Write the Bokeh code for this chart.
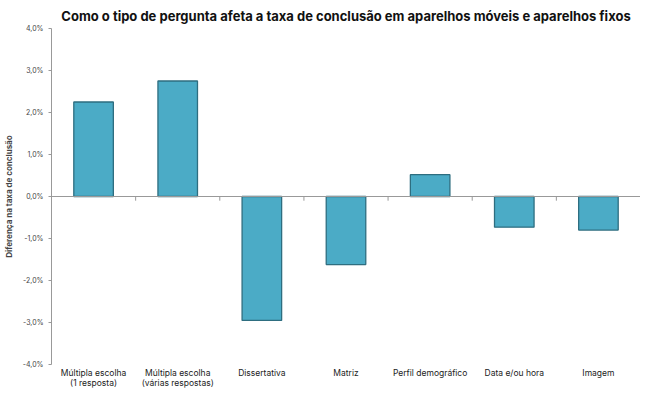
from bokeh.plotting import figure
from bokeh.models import FixedTicker, Range1d, Span
from bokeh.embed import file_html
from bokeh.resources import INLINE

categories = ["Múltipla escolha\n(1 resposta)", "Múltipla escolha\n(várias respostas)", "Dissertativa",
              "Matriz", "Perfil demográfico", "Data e/ou hora", "Imagem"]
values = [2.25, 2.75, -2.95, -1.62, 0.52, -0.73, -0.80]
yticks = [-4, -3, -2, -1, 0, 1, 2, 3, 4]
ytick_labels = {t: f"{t:.1f}%".replace(".", ",") for t in yticks}

xs = list(range(len(categories)))
p = figure(width=640, height=390, output_backend="svg", toolbar_location=None,
           x_range=Range1d(-0.5, len(categories) - 0.5), y_range=Range1d(-4, 4),
           min_border_left=8, min_border_right=0, min_border_top=6, min_border_bottom=0)
p.title.text = "Como o tipo de pergunta afeta a taxa de conclusão em aparelhos móveis e aparelhos fixos"
p.title.text_font = "Inter"
p.title.text_font_size = "13px"
p.title.align = "center"
p.title.text_color = "#111111"

p.vbar(x=xs, top=values, bottom=0, width=0.47, fill_color="#4BABC6", line_color="#2E6E80", line_width=1.3)

p.add_layout(Span(location=0, dimension="width", line_color="#999999", line_width=1))
bounds = [i + 0.5 for i in range(len(categories) - 1)]
p.segment(x0=bounds, y0=[0] * len(bounds), x1=bounds, y1=[-0.1] * len(bounds), line_color="#999999")

p.xaxis.ticker = FixedTicker(ticks=xs)
p.xaxis.major_label_overrides = {i: c for i, c in enumerate(categories)}
p.xaxis.axis_line_color = None
p.xaxis.major_tick_line_color = None
p.xaxis.major_tick_out = 0
p.xaxis.major_tick_in = 0
p.xaxis.minor_tick_line_color = None
p.xaxis.major_label_text_font = "Inter"
p.xaxis.major_label_text_font_size = "8.5px"
p.xaxis.major_label_text_color = "#222222"
p.xaxis.major_label_text_line_height = 1.0
p.xaxis.major_label_standoff = 3

p.yaxis.ticker = FixedTicker(ticks=yticks)
p.yaxis.major_label_overrides = ytick_labels
p.yaxis.axis_line_color = "#999999"
p.yaxis.major_tick_line_color = "#999999"
p.yaxis.major_tick_out = 3
p.yaxis.major_tick_in = 0
p.yaxis.minor_tick_line_color = None
p.yaxis.major_label_text_font = "Inter"
p.yaxis.major_label_text_font_size = "7px"
p.yaxis.major_label_text_color = "#444444"
p.yaxis.axis_label = "Diferença na taxa de conclusão"
p.yaxis.axis_label_text_font = "Inter"
p.yaxis.axis_label_text_font_size = "8px"
p.yaxis.axis_label_text_font_style = "bold"
p.yaxis.axis_label_standoff = 6

p.grid.grid_line_color = None
p.outline_line_color = None

open("out.html", "w").write(file_html(p, INLINE))
